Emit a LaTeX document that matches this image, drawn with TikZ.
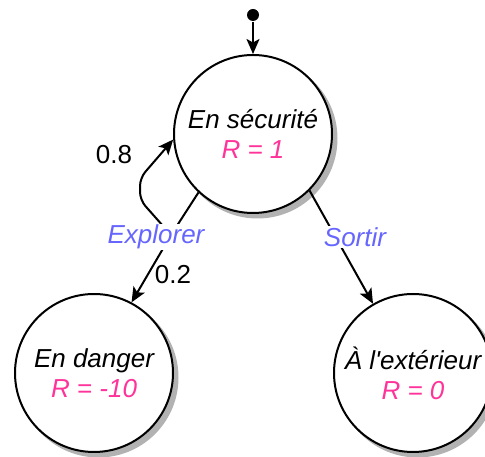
\documentclass[tikz,border=0pt]{standalone}
\usepackage{fontspec}
\setmainfont{Liberation Sans}
\usetikzlibrary{arrows.meta}
\definecolor{rew}{HTML}{FF3399}
\definecolor{act}{HTML}{6666FF}
\begin{document}
\begin{tikzpicture}[x=1pt,y=1pt,font=\fontsize{26}{30}\selectfont,
  line width=2pt,>={Stealth[length=15pt,width=13pt,inset=3.5pt]},
  etat/.style={circle,draw,fill=white,minimum size=158pt,inner sep=0pt,
    align=center,font=\fontsize{26}{30}\selectfont\itshape},
  action/.style={fill=white,text=act,inner sep=1pt,
    font=\fontsize{26}{30}\selectfont\itshape}]

\useasboundingbox (0,0) rectangle (485,457);

% ombres
\foreach \x/\y in {253/323, 94/84, 413/84}{
\fill[black!30] (\x+4.5,\y-4.5) circle (80pt);
}

\node[etat] (s) at (253,323) {En sécurité\\\textcolor{rew}{R = 1}};
\node[etat] (d) at (94,84) {En danger\\\textcolor{rew}{R = -10}};
\node[etat] (e) at (413,84) {À l\textquotesingle extérieur\\\textcolor{rew}{R = 0}};

\node[circle,fill,inner sep=0pt,minimum size=12pt] (i) at (253,442) {};
\draw[->] (i) -- (s);

\coordinate (j) at (171,222);
\draw (s.227) -- (j);
\draw[->] (j) -- (d.62);
\draw[->,rounded corners=8pt] (j) -- (140,257) -- (140,279) -- (s.184);
\draw[->] (s.315) -- (e.120);

\node[action] (ex) at (156,220) {Explorer};
\node[action] (so) at (355,220) {Sortir};
\node (p8) at (114,302) {0.8};
\node (p2) at (173,182) {0.2};
\end{tikzpicture}
\end{document}
